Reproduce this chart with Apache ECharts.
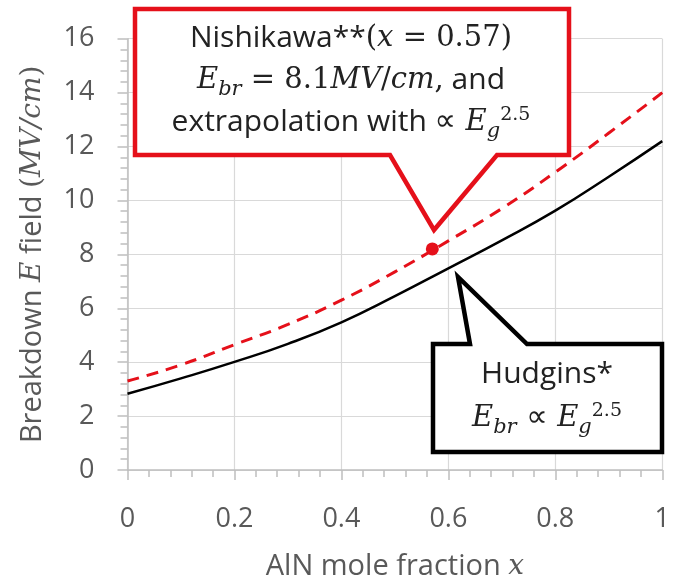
<!DOCTYPE html>
<html>
<head>
<meta charset="utf-8">
<script src="https://cdn.jsdelivr.net/npm/echarts@6/dist/echarts.min.js"></script>
<style>
html,body{margin:0;padding:0;background:#fff;}
#chart{width:673px;height:586px;}
</style>
</head>
<body>
<div id="chart"></div>
<script>
// ---- data ----
const xValues = [0, 0.1, 0.2, 0.3, 0.4, 0.5, 0.6, 0.7, 0.8, 0.9, 1.0];
const hudgins = [2.83, 3.40, 4.01, 4.68, 5.48, 6.45, 7.48, 8.52, 9.62, 10.88, 12.20];
const nishikawaExtrap = [3.30, 3.90, 4.65, 5.40, 6.30, 7.35, 8.50, 9.70, 11.05, 12.50, 14.00];
const nishikawaPoint = [0.57, 8.2];
const xTicks = { min: 0, max: 1, interval: 0.2 };
const yTicks = { min: 0, max: 16, interval: 2 };

const SANS = '"Open Sans", sans-serif';
const SERIF = '"DejaVu Serif", serif';
const GRAY = '#595959';
const RED = '#e5101a';

const chart = echarts.init(document.getElementById('chart'), null, { renderer: 'canvas' });

const LH = 40;
const rich = {
  s:   { fontFamily: SANS, fontSize: 30, lineHeight: LH, color: '#222' },
  m:   { fontFamily: SERIF, fontStyle: 'italic', fontSize: 29, lineHeight: LH, color: '#222' },
  u:   { fontFamily: SERIF, fontSize: 29, lineHeight: LH, color: '#222' },
  p:   { fontFamily: '"DejaVu Sans", sans-serif', fontSize: 30, lineHeight: LH, color: '#222' },
  sub: { fontFamily: SERIF, fontStyle: 'italic', fontSize: 21, lineHeight: 20, verticalAlign: 'middle', padding: [20, 0, 0, 0], color: '#222' },
  sup: { fontFamily: SERIF, fontSize: 19, lineHeight: 19, verticalAlign: 'middle', padding: [0, 0, 13, 0], color: '#222' }
};
function gtext(x, y, text) {
  return {
    type: 'text', x: x, y: y, z: 101,
    style: { text: text, rich: rich, align: 'center', verticalAlign: 'middle', fontFamily: SANS, fontSize: 30, fill: '#222' }
  };
}

const axisRich = {
  s: { fontFamily: SANS, fontSize: 29, color: GRAY },
  m: { fontFamily: SERIF, fontStyle: 'italic', fontSize: 28, color: GRAY },
  u: { fontFamily: SERIF, fontSize: 28, color: GRAY }
};

const option = {
  animation: false,
  backgroundColor: '#fff',
  grid: { left: 127.5, right: 7.5, top: 38.7, bottom: 115.3, containLabel: false },
  xAxis: {
    type: 'value', min: xTicks.min, max: xTicks.max, interval: xTicks.interval,
    name: '{s|AlN mole fraction }{m|x}',
    nameLocation: 'middle', nameGap: 82,
    nameTextStyle: { rich: axisRich },
    axisLine: { show: true, lineStyle: { color: '#bfbfbf', width: 1.5 } },
    axisTick: { show: true, length: 10, lineStyle: { color: '#bfbfbf', width: 1.5 } },
    minorTick: { show: true, splitNumber: 5, length: 7, lineStyle: { color: '#bfbfbf', width: 1.5 } },
    splitLine: { show: true, lineStyle: { color: '#d9d9d9', width: 1.2 } },
    axisLabel: { fontFamily: SANS, fontSize: 27, color: GRAY, margin: 36 }
  },
  yAxis: {
    type: 'value', min: yTicks.min, max: yTicks.max, interval: yTicks.interval,
    name: '{s|Breakdown }{m|E}{s| field }{u|(}{m|MV/cm}{u|)}',
    nameLocation: 'middle', nameGap: 80, nameRotate: 90,
    nameTextStyle: { rich: axisRich },
    axisLine: { show: true, lineStyle: { color: '#bfbfbf', width: 1.5 } },
    axisTick: { show: true, length: 10, lineStyle: { color: '#bfbfbf', width: 1.5 } },
    minorTick: { show: true, splitNumber: 5, length: 7, lineStyle: { color: '#bfbfbf', width: 1.5 } },
    splitLine: { show: true, lineStyle: { color: '#d9d9d9', width: 1.2 } },
    axisLabel: { fontFamily: SANS, fontSize: 27, color: GRAY, margin: 33 }
  },
  series: [
    {
      name: 'Hudgins', type: 'line', smooth: true, symbol: 'none',
      data: xValues.map((x, i) => [x, hudgins[i]]),
      lineStyle: { color: '#000', width: 2.5 }, z: 3
    },
    {
      name: 'Nishikawa extrapolation', type: 'line', smooth: true, symbol: 'none',
      data: xValues.map((x, i) => [x, nishikawaExtrap[i]]),
      lineStyle: { color: RED, width: 3, type: [12, 8] }, z: 3
    },
    {
      name: 'Nishikawa', type: 'scatter', symbol: 'circle', symbolSize: 13,
      data: [nishikawaPoint], itemStyle: { color: RED, opacity: 1 }, z: 4
    }
  ],
  graphic: [
    {
      type: 'polygon', z: 100,
      shape: { points: [[135, 9], [569, 9], [569, 155], [497, 155], [434, 230], [390, 155], [135, 155]] },
      style: { fill: '#fff', stroke: RED, lineWidth: 4.5, lineJoin: 'miter' }
    },
    gtext(351, 38, '{s|Nishikawa**}{u|(}{m|x}{u| = 0.57)}'),
    gtext(351, 80, '{m|E}{sub|br}{u| = 8.1}{m|MV}{u|/}{m|cm}{u|,}{s| and}'),
    gtext(351, 122, '{s|extrapolation with }{p|∝ }{m|E}{sub|g}{sup|2.5}'),
    {
      type: 'polygon', z: 100,
      shape: { points: [[433, 344], [470, 344], [458, 277], [527, 344], [662, 344], [662, 452], [433, 452]] },
      style: { fill: '#fff', stroke: '#000', lineWidth: 4.5, lineJoin: 'miter' }
    },
    gtext(547, 374, '{s|Hudgins*}'),
    gtext(547, 418, '{m|E}{sub|br}{p| ∝ }{m|E}{sub|g}{sup|2.5}')
  ]
};
chart.setOption(option);
</script>
</body>
</html>
